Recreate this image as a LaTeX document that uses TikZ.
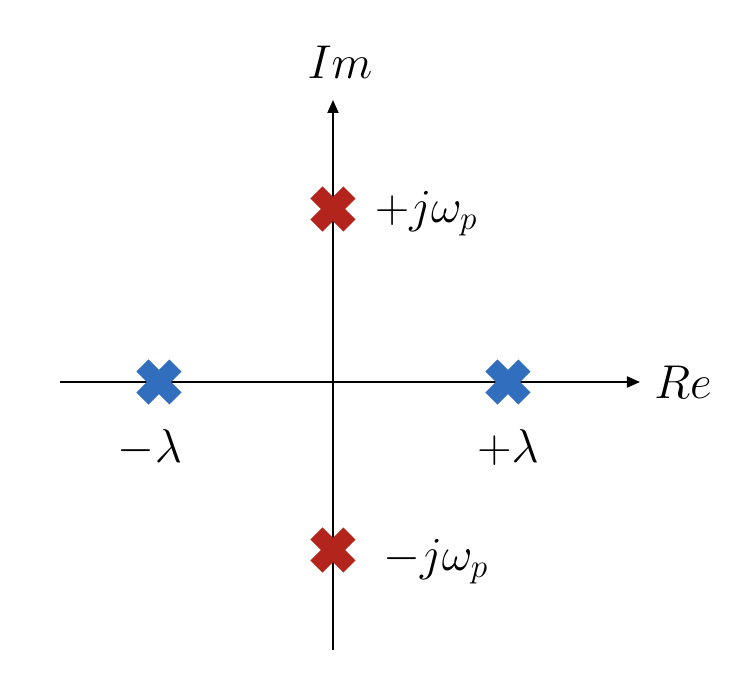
\RequirePackage{fix-cm}
\documentclass[tikz,border=0pt]{standalone}
\usepackage{tikz}
\usetikzlibrary{arrows.meta,positioning}
\definecolor{polered}{RGB}{178,36,28}
\definecolor{poleblue}{RGB}{50,110,190}
\definecolor{ink}{RGB}{0,0,0}
\tikzset{
  >={Triangle[length=2.6mm,width=2.2mm]},
  axis/.style={->,line width=1.1pt,draw=ink},
  pole/.style={circle,inner sep=0pt,minimum size=8.9mm},
  bar/.style={draw=#1,line width=3.4mm},
  lbl/.style={font=\fontsize{27}{32}\selectfont,inner sep=1pt},
}
\begin{document}
\begin{tikzpicture}
  \useasboundingbox (-6.66,-6.04) rectangle (8.34,7.64);
  % axes
  \coordinate (xl) at (-5.46,0);
  \coordinate (xr) at (6.14,0);
  \coordinate (yb) at (0,-5.36);
  \coordinate (yt) at (0,5.64);
  \draw[axis] (xl) -- (xr);
  \draw[axis] (yb) -- (yt);
  \node[lbl] (im) at (0.14,6.4) {$Im$};
  \node[lbl] (re) at (7.0,0) {$Re$};
  % poles
  \node[pole] (pj) at (0,3.46) {};
  \node[pole] (mj) at (0,-3.36) {};
  \node[pole] (ml) at (-3.48,0) {};
  \node[pole] (pl) at (3.5,0) {};
  \foreach \p/\c in {pj/polered,mj/polered,ml/poleblue,pl/poleblue}{
    \draw[bar=\c] ([shift={(-0.33,-0.33)}]\p.center) -- ([shift={(0.33,0.33)}]\p.center);
    \draw[bar=\c] ([shift={(-0.33,0.33)}]\p.center) -- ([shift={(0.33,-0.33)}]\p.center);
  }
  \node[lbl,anchor=west] at (0.8,3.36) {$+j\omega_p$};
  \node[lbl,anchor=west] at (0.96,-3.6) {$-j\omega_p$};
  \node[lbl] at (-3.66,-1.32) {$-\lambda$};
  \node[lbl] at (3.5,-1.32) {$+\lambda$};
\end{tikzpicture}
\end{document}
